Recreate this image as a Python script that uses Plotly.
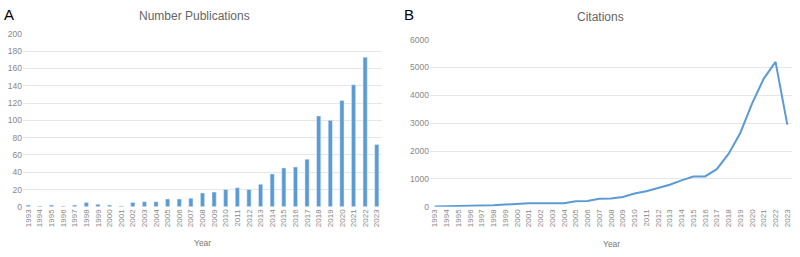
import plotly.graph_objects as go

years = list(range(1993, 2024))
year_labels = [str(y) for y in years]
publications = [2, 1, 2, 1, 2, 5, 3, 2, 1, 5, 6, 6, 9, 9, 10, 16, 17, 20, 22, 20,
                26, 38, 45, 46, 55, 105, 100, 123, 141, 173, 72]
citations = [10, 15, 25, 30, 35, 60, 80, 110, 130, 130, 120, 130, 200, 210, 290, 300,
             350, 480, 560, 680, 790, 950, 1090, 1090, 1350, 1900, 2650, 3700, 4600, 5200, 2950]
pub_ticks = [0, 20, 40, 60, 80, 100, 120, 140, 160, 180, 200]
cit_ticks = [0, 1000, 2000, 3000, 4000, 5000, 6000]

BLUE = "#5b9bd5"
GRID = "#e6e6e6"
TICKC = "#888888"
FONT = "Liberation Sans"

fig = go.Figure()
fig.add_trace(go.Bar(x=years, y=publications, marker_color=BLUE, width=0.36,
                     xaxis="x", yaxis="y", showlegend=False, hoverinfo="skip"))
fig.add_trace(go.Scatter(x=years, y=citations, mode="lines", line=dict(color=BLUE, width=2),
                         xaxis="x2", yaxis="y2", showlegend=False, hoverinfo="skip"))

xcommon = dict(tickmode="array", tickvals=years, ticktext=year_labels, tickangle=-90,
               tickfont=dict(size=8, color=TICKC, family=FONT), showgrid=False,
               zeroline=False, showline=False, ticks="")
ycommon = dict(tickfont=dict(size=8.5, color=TICKC, family=FONT), showgrid=True, gridcolor=GRID,
               gridwidth=1, zeroline=False, showline=False, ticks="", tickmode="array")

fig.update_layout(
    width=800, height=257,
    margin=dict(l=0, r=0, t=0, b=0),
    paper_bgcolor="white", plot_bgcolor="white",
    font=dict(family=FONT),
    xaxis=dict(domain=[23/800, 382/800], range=[1992.55, 2023.45], anchor="y", **xcommon),
    yaxis=dict(domain=[1-210/257, 1-30/257], range=[0, 200], tickvals=pub_ticks,
               anchor="x", **ycommon),
    xaxis2=dict(domain=[430/800, 792/800], range=[1992.6, 2023.4], anchor="y2", **xcommon),
    yaxis2=dict(domain=[1-210/257, 1-36/257], range=[0, 6000], tickvals=cit_ticks,
                anchor="x2", **ycommon),
    annotations=[
        dict(text="Number Publications", x=194/800, y=1-11/257, xref="paper", yref="paper",
             xanchor="center", showarrow=False,
             font=dict(size=12, color="#666666", family=FONT), yanchor="middle"),
        dict(text="Citations", x=600/800, y=1-12/257, xref="paper", yref="paper",
             xanchor="center", showarrow=False,
             font=dict(size=12, color="#666666", family=FONT), yanchor="middle"),
        dict(text="A", x=2/800, y=1-10/257, xref="paper", yref="paper", xanchor="left",
             showarrow=False, font=dict(size=15, color="black", family=FONT), yanchor="middle"),
        dict(text="B", x=402/800, y=1-10/257, xref="paper", yref="paper", xanchor="left",
             showarrow=False, font=dict(size=15, color="black", family=FONT), yanchor="middle"),
        dict(text="Year", x=202/800, y=1-248/257, xref="paper", yref="paper",
             xanchor="center", showarrow=False,
             font=dict(size=8.5, color="#777777", family=FONT), yanchor="middle"),
        dict(text="Year", x=611/800, y=1-249/257, xref="paper", yref="paper",
             xanchor="center", showarrow=False,
             font=dict(size=8.5, color="#777777", family=FONT), yanchor="middle"),
    ],
)

fig.write_html("out.html", config={"displayModeBar": False},
               post_script="document.body.style.margin='0';document.body.style.overflow='hidden';")
